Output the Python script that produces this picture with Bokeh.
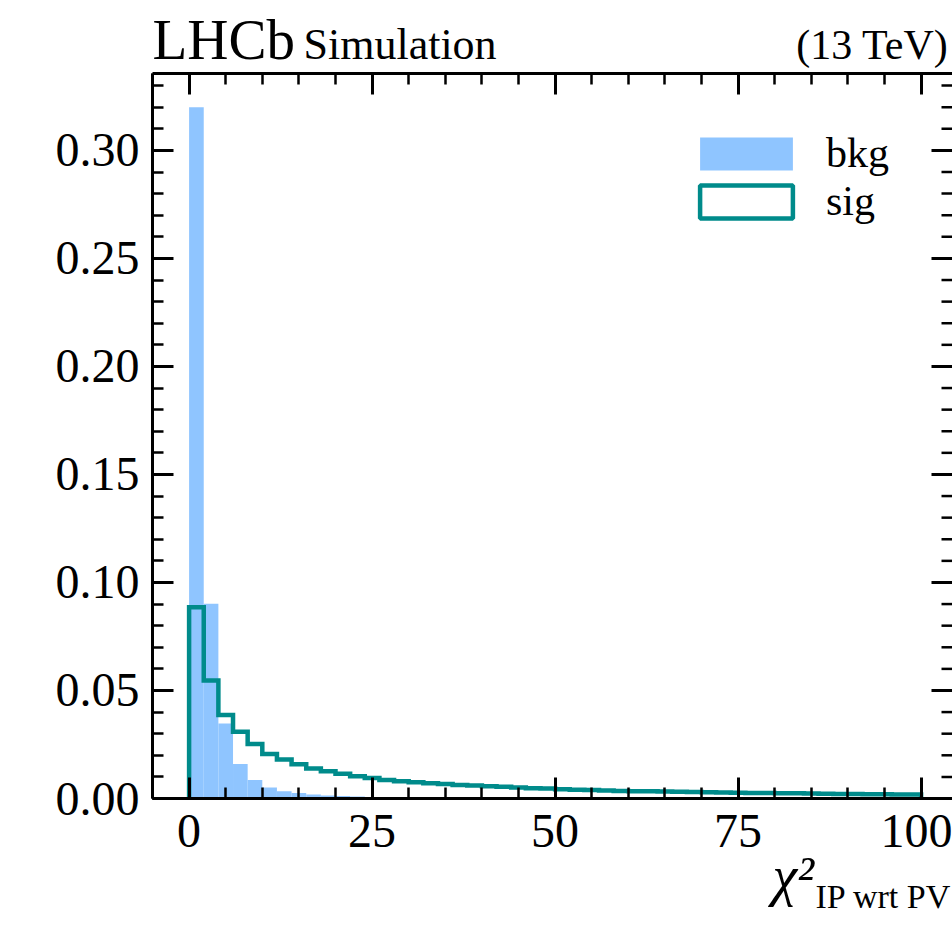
import numpy as np
from bokeh.plotting import figure
from bokeh.layouts import column
from bokeh.models import (LinearAxis, SingleIntervalTicker, Label, Legend, LegendItem,
                          PrintfTickFormatter, Range1d)
from bokeh.embed import file_html
from bokeh.resources import INLINE

# ---------------- data ----------------
bin_edges = list(range(0, 102, 2))  # 50 bins of width 2 from 0 to 100

bkg = [0.3200, 0.0901, 0.0347, 0.0160, 0.0086, 0.0051, 0.0034, 0.0026, 0.0019, 0.0014,
       0.0011, 0.0009, 0.0007, 0.0005, 0.0004, 0.0003, 0.0003, 0.0002, 0.0002, 0.0002,
       0.00015, 0.00015, 0.0001, 0.0001, 0.0001, 0.0001, 0.0001, 0.00008, 0.00008, 0.00008,
       0.00006, 0.00006, 0.00006, 0.00005, 0.00005, 0.00005, 0.00004, 0.00004, 0.00004, 0.00004,
       0.00003, 0.00003, 0.00003, 0.00003, 0.00003, 0.00002, 0.00002, 0.00002, 0.00002, 0.00002]

sig = [0.0885, 0.0546, 0.0387, 0.0309, 0.0252, 0.0206, 0.0180, 0.0159, 0.0139, 0.0126,
       0.0115, 0.0103, 0.0095, 0.0086, 0.0080, 0.0075, 0.0071, 0.0067, 0.0063, 0.0060,
       0.0057, 0.0054, 0.0051, 0.0048, 0.0046, 0.0043, 0.0041, 0.0039, 0.0037, 0.0035,
       0.0034, 0.0033, 0.0032, 0.0031, 0.0030, 0.0029, 0.0028, 0.0027, 0.0026, 0.0025,
       0.0024, 0.0024, 0.0023, 0.0022, 0.0021, 0.0021, 0.0020, 0.0020, 0.0019, 0.0019]

x_ticks = [0, 25, 50, 75, 100]
y_ticks = [0.00, 0.05, 0.10, 0.15, 0.20, 0.25, 0.30]
y_minor_step = 0.01

BKG_COLOR = "#8fc5ff"
SIG_COLOR = "#008b8b"
FONT = "Liberation Serif"

X_START, X_END = -5.0, 104.29
Y_START, Y_END = 0.0, 0.3356

W = 952
PAGE_H = 935
HEADER_H = 85
HEADER_OVERLAP = 14          # main plot starts at page row 71
FOOTER_H = 100
FOOTER_OVERLAP = 38
BASELINE_SHIFT = 0.41        # alphabetic baseline lands this many font-sizes below the anchor


def text_panel(height, **kw):
    f = figure(width=W, height=height, x_range=Range1d(0, W), y_range=Range1d(0, height),
               x_axis_type=None, y_axis_type=None, min_border=0,
               min_border_left=0, min_border_right=0, min_border_top=0, min_border_bottom=0,
               frame_align=False, output_backend="svg", toolbar_location=None, **kw)
    f.outline_line_color = None
    f.background_fill_alpha = 0
    f.border_fill_alpha = 0
    return f


def put(panel, panel_top, x, baseline, text, size, **kw):
    """Place text so that its baseline falls at page row `baseline`."""
    y = panel_top + panel.height - baseline + BASELINE_SHIFT * size
    panel.add_layout(Label(x=x, y=y, text=text, text_font=FONT, text_font_size=f"{size}px",
                           text_color="black", text_baseline="alphabetic", **kw))


# ---------------- header (experiment tag) ----------------
header = text_panel(HEADER_H)
put(header, 0, 152, 62, "LHCb", 57)
put(header, 0, 303, 62, "Simulation", 44)
put(header, 0, 948, 62, "(13 TeV)", 42, text_align="right")

# ---------------- main plot ----------------
p = figure(width=W, height=2 + 725 + 75, x_range=Range1d(X_START, X_END),
           y_range=Range1d(Y_START, Y_END), frame_align=False,
           output_backend="svg", toolbar_location=None,
           min_border_left=152, min_border_right=0, min_border_top=2, min_border_bottom=75,
           margin=(-HEADER_OVERLAP, 0, 0, 0))
p.xgrid.visible = False
p.ygrid.visible = False
p.outline_line_color = None
p.background_fill_color = "white"
p.border_fill_alpha = 0

left_edges = bin_edges[:-1]
right_edges = bin_edges[1:]

bkg_r = p.quad(left=left_edges, right=right_edges, bottom=0, top=bkg,
               fill_color=BKG_COLOR, line_color=None)

# step outline for signal
sx, sy = [bin_edges[0]], [0.0]
for l, r, v in zip(left_edges, right_edges, sig):
    sx += [l, r]
    sy += [v, v]
sx.append(bin_edges[-1])
sy.append(0.0)
p.line(sx, sy, line_color=SIG_COLOR, line_width=4.5, line_join="miter")

# hidden box renderer of the signal, used only for its legend symbol
sig_box = p.quad(left=left_edges, right=right_edges, bottom=0, top=sig, fill_color=None,
                 line_color=SIG_COLOR, line_width=4.5, visible=False)


def style_axis(ax):
    ax.axis_line_width = 3
    ax.axis_line_color = "black"
    ax.major_tick_line_width = 3
    ax.minor_tick_line_width = 2.5
    ax.major_tick_in = 21
    ax.major_tick_out = 0
    ax.minor_tick_in = 11
    ax.minor_tick_out = 0
    ax.major_label_text_font = FONT
    ax.major_label_text_font_size = "48px"
    ax.major_label_text_color = "black"


p.xaxis.ticker = SingleIntervalTicker(interval=25, num_minor_ticks=5)
p.yaxis.ticker = SingleIntervalTicker(interval=0.05, num_minor_ticks=5)
p.yaxis.formatter = PrintfTickFormatter(format="%.2f")
for ax in p.xaxis:
    style_axis(ax)
    ax.major_label_standoff = 16
for ax in p.yaxis:
    style_axis(ax)
    ax.major_label_standoff = 13

top = LinearAxis(ticker=SingleIntervalTicker(interval=25, num_minor_ticks=5),
                 major_label_overrides={t: "" for t in x_ticks})
style_axis(top)
top.major_label_text_font_size = "0px"
top.major_label_standoff = 0
p.add_layout(top, "above")

# right-hand ticks (the frame is cut at the right edge as in the reference)
y_minor = [round(v, 3) for v in np.arange(Y_START, Y_END, y_minor_step) if round(v, 3) not in y_ticks]
p.scatter(x=[X_END] * len(y_ticks), y=y_ticks, marker="dash", size=42,
          line_color="black", line_width=3)
p.scatter(x=[X_END] * len(y_minor), y=y_minor, marker="dash", size=22,
          line_color="black", line_width=2.5)

# legend
legend = Legend(items=[LegendItem(label="bkg", renderers=[bkg_r]),
                       LegendItem(label="sig", renderers=[sig_box])],
                location=(536, 573), glyph_width=116, glyph_height=41,
                label_text_font=FONT, label_text_font_size="42px", label_text_color="black",
                label_standoff=22, spacing=0, padding=0, margin=0, border_line_color=None,
                background_fill_alpha=0, click_policy="none")
p.add_layout(legend)

# ---------------- footer (x-axis title) ----------------
footer = text_panel(FOOTER_H, margin=(-FOOTER_OVERLAP, 0, 0, 0))
FOOT_TOP = PAGE_H - FOOTER_H
put(footer, FOOT_TOP, 772, 898, "χ²", 56, text_font_style="italic")
put(footer, FOOT_TOP, 815, 910, "IP wrt PV", 34)

layout = column(header, p, footer, spacing=0)
open("out.html", "w").write(file_html(layout, INLINE))
